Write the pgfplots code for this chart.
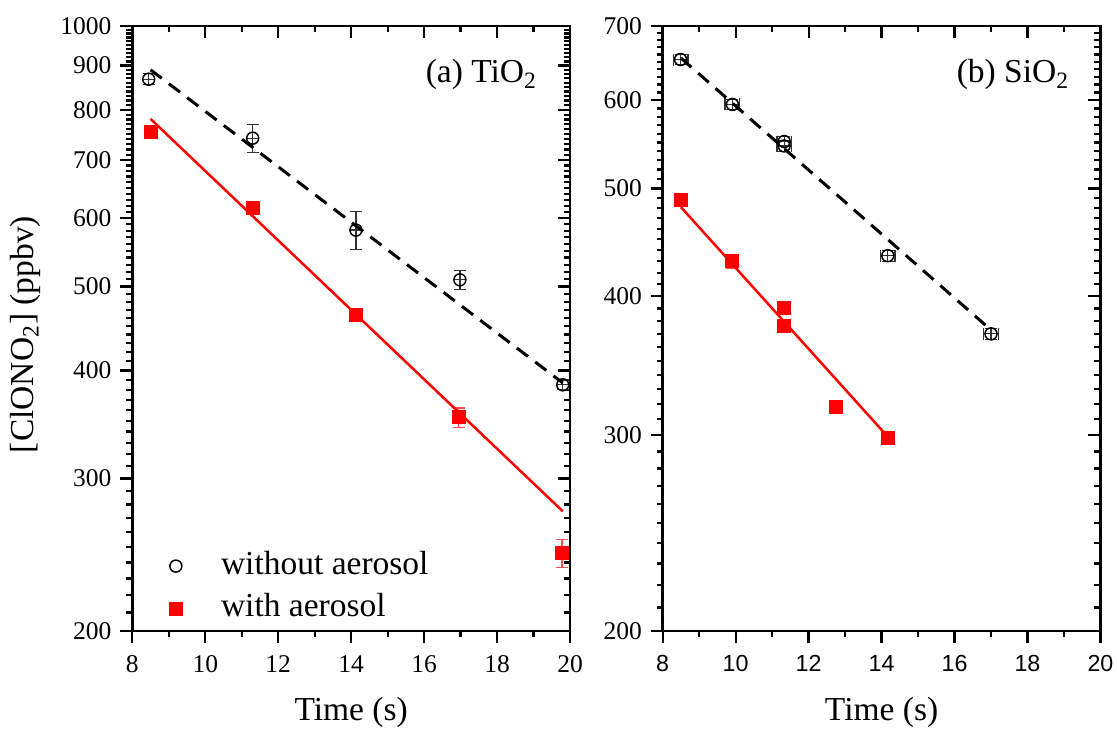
\documentclass[border=0pt]{standalone}
\usepackage{fontspec}
\setmainfont{Liberation Serif}
\newfontfamily\arialfont{Liberation Sans}
\usepackage{pgfplots}
\pgfplotsset{compat=1.18}

\pgfplotsset{
  myPanel/.style={
    scale only axis, width=175.1pt, height=242pt,
    xmin=8, xmax=20,
    xtick={8,10,12,14,16,18,20}, minor x tick num=1,
    axis line style={line width=1pt},
    major tick length=4.8pt, minor tick length=2.4pt,
    tick style={line width=0.9pt, black},
    tick label style={font=\fontsize{10.2}{12}\selectfont},
    xticklabel style={yshift=-1.5pt},
    label style={font=\fontsize{13.4}{16}\selectfont},
  },
  myOuter/.style={myPanel, tick pos=left, tick align=outside},
  myInner/.style={myPanel, tick pos=right, tick align=inside,
    xticklabels={}, yticklabels={}},
  fitBlack/.style={black, line width=1.2pt, dash pattern=on 5.6pt off 3.6pt, forget plot},
  fitRed/.style={red, line width=1pt, forget plot},
  legImg/.style={legend image code/.code={
    \path[draw=none, fill=none] (0cm,0cm) rectangle (1.1cm,0.01cm);
    \draw[##1, only marks] plot coordinates {(0.5cm,0cm)};}},
  myCirc/.style={only marks, mark=o, black, mark size=2.4pt, mark options={line width=0.6pt},
    error bars/y dir=both, error bars/y explicit, error bars/x dir=both, error bars/x explicit,
    error bars/error bar style={line width=0.5pt, black!80},
    error bars/error mark options={rotate=90, mark size=2.4pt, line width=0.5pt}, legImg},
  mySq/.style={only marks, mark=square*, red, mark size=2.6pt,
    error bars/y dir=both, error bars/y explicit, error bars/x dir=both, error bars/x explicit,
    error bars/error bar style={line width=0.5pt, red!70},
    error bars/error mark options={rotate=90, mark size=2.4pt, line width=0.5pt, red!70}, legImg},
}

\begin{document}
\begin{tikzpicture}
\useasboundingbox (-52.92pt,-40pt) rectangle (393.88pt,252.4pt);

% (a) TiO2
\begin{axis}[myInner, ymode=log, ymin=200, ymax=1000,
  ytick={200,300,400,500,600,700,800,900,1000}, minor ytick={210,220,...,990}]
\end{axis}
\begin{axis}[myOuter, ymode=log, ymin=200, ymax=1000,
  ytick={200,300,400,500,600,700,800,900,1000},
  yticklabels={200,300,400,500,600,700,800,900,1000},
  minor ytick={210,220,...,990},
  xticklabels={8,10,12,14,16,18,20},
  xlabel={Time (s)}, ylabel={[ClONO\textsubscript{2}] (ppbv)},
  xlabel style={at={(axis description cs:0.5,-0.134)}, anchor=center},
  ylabel style={at={(axis description cs:-0.245,0.49)}, anchor=center},
  legend style={draw=none, fill=none, at={(axis description cs:0.0,0.0)}, anchor=south west,
    font=\fontsize{13.4}{16}\selectfont, nodes={inner sep=1pt, text height=9pt, text depth=2.5pt},
    row sep=3.5pt},
  legend cell align=left,
]
\addplot[myCirc] coordinates {
  (8.45,868) +- (0,13)
  (11.30,742) +- (0,28)
  (14.13,581) +- (0,29)
  (16.98,509) +- (0,13)
  (19.80,385) +- (0,5)
};
\addlegendentry{without aerosol}
\addplot[mySq] coordinates {
  (8.50,755) +- (0,0)
  (11.30,616) +- (0,0)
  (14.13,464) +- (0,0)
  (16.95,353) +- (0,9)
  (19.78,246) +- (0,9)
};
\addlegendentry{with aerosol}
\addplot[fitBlack] coordinates {(8.5,890) (19.8,387)};
\addplot[fitRed] coordinates {(8.5,781) (19.8,275)};
\node[anchor=base east, font=\fontsize{13.4}{16}\selectfont] at (axis description cs:0.945,0.906) {(a) TiO\textsubscript{2}};
\end{axis}

% (b) SiO2
\begin{axis}[myInner, ymode=log, at={(212.16pt,0pt)}, ymin=200, ymax=700,
  ytick={200,300,400,500,600,700}, minor ytick={210,220,...,690}]
\end{axis}
\begin{axis}[myOuter, ymode=log, at={(212.16pt,0pt)}, ymin=200, ymax=700,
  ytick={200,300,400,500,600,700},
  yticklabels={200,300,400,500,600,700},
  minor ytick={210,220,...,690},
  xticklabels={8,10,12,14,16,18,20},
  xticklabel style={font=\fontsize{9.3}{11}\selectfont\arialfont},
  xlabel={Time (s)},
  xlabel style={at={(axis description cs:0.5,-0.134)}, anchor=center},
]
\addplot[myCirc] coordinates {
  (8.49,653) +- (0.2,7)
  (9.91,595) +- (0.2,6)
  (11.33,551) +- (0.2,6)
  (11.33,546) +- (0.2,6)
  (14.17,435) +- (0.2,5)
  (17.00,370) +- (0.2,4)
};
\addplot[mySq] coordinates {
  (8.49,488) +- (0,0)
  (9.91,430) +- (0.15,6)
  (11.33,390) +- (0,0)
  (11.33,376) +- (0,0)
  (12.74,318) +- (0,0)
  (14.17,298) +- (0,0)
};
\addplot[fitBlack] coordinates {(8.5,655) (17.0,373)};
\addplot[fitRed] coordinates {(8.5,481) (14.17,299)};
\node[anchor=base east, font=\fontsize{13.4}{16}\selectfont] at (axis description cs:0.949,0.906) {(b) SiO\textsubscript{2}};
\end{axis}
\end{tikzpicture}
\end{document}
